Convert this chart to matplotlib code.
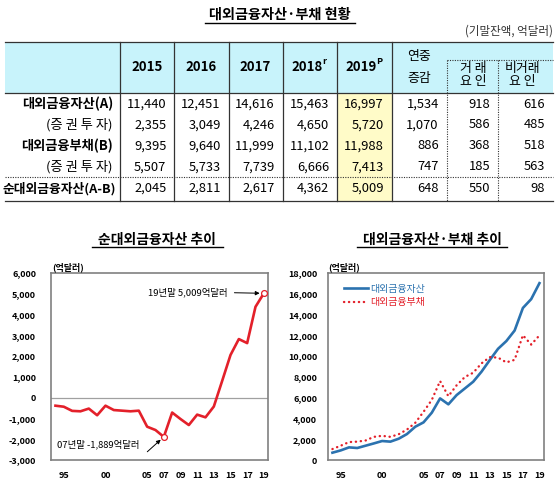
import matplotlib
matplotlib.use('Agg')
import matplotlib.pyplot as plt
from matplotlib.lines import Line2D
from matplotlib.patches import Rectangle

plt.rcParams['font.family'] = ['Noto Sans CJK KR', 'DejaVu Sans']

# ---------------- data ----------------
table_title = '대외금융자산·부채 현황'
unit_note = '(기말잔액, 억달러)'
col_years = ['2015', '2016', '2017', '2018', '2019']
col_year_marks = ['', '', '', 'r', 'P']
row_labels = ['대외금융자산(A)', '(증 권 투 자)', '대외금융부채(B)', '(증 권 투 자)', '순대외금융자산(A-B)']
row_bold = [True, False, True, False, True]
row_assets = [11440, 12451, 14616, 15463, 16997, 1534, 918, 616]
row_assets_sec = [2355, 3049, 4246, 4650, 5720, 1070, 586, 485]
row_liabs = [9395, 9640, 11999, 11102, 11988, 886, 368, 518]
row_liabs_sec = [5507, 5733, 7739, 6666, 7413, 747, 185, 563]
row_net = [2045, 2811, 2617, 4362, 5009, 648, 550, 98]

years = list(range(1994, 2020))
net_assets = [-390, -440, -640, -660, -530, -850, -390, -600, -630, -660, -630, -1400,
              -1560, -1889, -720, -1030, -1320, -820, -950, -430, 800, 2045, 2811, 2617,
              4362, 5009]
ext_assets = [730, 950, 1240, 1180, 1400, 1620, 1850, 1790, 2070, 2520, 3220, 3640,
              4570, 5940, 5370, 6260, 6900, 7540, 8500, 9620, 10700, 11440, 12451, 14616,
              15463, 16997]
ext_liabs = [1080, 1400, 1750, 1790, 1900, 2250, 2350, 2250, 2500, 2950, 3600, 4650,
             5800, 7600, 6150, 7200, 8000, 8400, 9300, 9900, 9850, 9395, 9640, 11999,
             11102, 11988]
xtick_years = [1995, 2000, 2005, 2007, 2009, 2011, 2013, 2015, 2017, 2019]
xtick_labels = ['95', '00', '05', '07', '09', '11', '13', '15', '17', '19']
left_title = '순대외금융자산 추이'
right_title = '대외금융자산·부채 추이'
legend_labels = ['대외금융자산', '대외금융부채']

RED = '#E3202A'
BLUE = '#2B72AF'
FRAME = '#808080'

W, H = 560, 493
fig = plt.figure(figsize=(W / 100, H / 100), dpi=100)

# ---------------- table (pixel coordinate overlay) ----------------
tab = fig.add_axes([0, 0, 1, 1])
tab.set_xlim(0, W)
tab.set_ylim(H, 0)
tab.axis('off')

tab.text(280, 15, table_title, ha='center', va='center', fontsize=10.2, fontweight='bold')
tab.plot([205, 355], [23, 23], color='black', lw=1.0)
tab.text(553, 31, unit_note, ha='right', va='center', fontsize=8.3, color='#333333')

x_edges = [5, 120, 174.3, 228.6, 282.5, 337.3, 391.7, 446.7, 498.3, 553]
y_top, y_head, y_bot = 41.7, 93.3, 200.5
y_dot = 176.7
row_y = [104, 125, 145.7, 166.7, 188.5]

tab.add_patch(Rectangle((x_edges[0], y_top), x_edges[-1] - x_edges[0], y_head - y_top,
                        facecolor='#C8F3FB', edgecolor='none', zorder=0))
tab.add_patch(Rectangle((x_edges[5], y_head), x_edges[6] - x_edges[5], y_bot - y_head,
                        facecolor='#FFFBC8', edgecolor='none', zorder=0))

lc = '#333333'
for y in (y_top, y_head, y_bot):
    tab.plot([x_edges[0], x_edges[-1]], [y, y], color=lc, lw=0.9)
for x in x_edges[1:7]:
    tab.plot([x, x], [y_top, y_bot], color=lc, lw=0.9)
for x in x_edges[7:9]:
    tab.plot([x, x], [60, y_bot], color=lc, lw=0.8, linestyle=(0, (1, 1.2)))
tab.plot([x_edges[7], x_edges[-1]], [60, 60], color=lc, lw=0.8, linestyle=(0, (1, 1.2)))
tab.plot([x_edges[0], x_edges[-1]], [y_dot, y_dot], color=lc, lw=0.8, linestyle=(0, (1, 1.2)))

# header
for i, (yr, mk) in enumerate(zip(col_years, col_year_marks)):
    cx = (x_edges[i + 1] + x_edges[i + 2]) / 2
    if mk:
        tab.text(cx - 3, 67, yr, ha='center', va='center', fontsize=9.5, fontweight='bold')
        tab.text(cx + 12, 62, mk, ha='left', va='center', fontsize=6.5, fontweight='bold')
    else:
        tab.text(cx, 67, yr, ha='center', va='center', fontsize=9.5, fontweight='bold')
tab.text(419, 56.5, '연중', ha='center', va='center', fontsize=9.3)
tab.text(419, 78.5, '증감', ha='center', va='center', fontsize=9.3)
tab.text(473, 68.5, '거 래', ha='center', va='center', fontsize=9.3)
tab.text(473, 82, '요 인', ha='center', va='center', fontsize=9.3)
tab.text(522, 68.5, '비거래', ha='center', va='center', fontsize=9.3)
tab.text(522, 82, '요 인', ha='center', va='center', fontsize=9.3)

rows = [row_assets, row_assets_sec, row_liabs, row_liabs_sec, row_net]
for r, (lab, bold, vals) in enumerate(zip(row_labels, row_bold, rows)):
    y = row_y[r]
    if r == 4:
        tab.text(116, y, lab, ha='right', va='center', fontsize=9.2,
                 fontweight='bold')
    else:
        tab.text(113, y, lab, ha='right', va='center', fontsize=9.5,
                 fontweight='bold' if bold else 'normal')
    for c, v in enumerate(vals):
        tab.text(x_edges[c + 2] - 8, y, f'{v:,}', ha='right', va='center', fontsize=9.3)

# ---------------- left chart ----------------
axL = fig.add_axes([51.3 / W, 1 - 460 / H, (268 - 51.3) / W, (460 - 272.7) / H])
axR = fig.add_axes([328.3 / W, 1 - 460.3 / H, (543.6 - 328.3) / W, (460.3 - 272.7) / H])

for ax in (axL, axR):
    ax.set_xlim(1993.5, 2019.5)
    ax.set_xticks(xtick_years)
    ax.set_xticklabels(xtick_labels, fontsize=6.5, fontweight='bold')
    ax.tick_params(axis='both', length=0)
    ax.tick_params(axis='x', pad=8)
    for s in ax.spines.values():
        s.set_color(FRAME)
        s.set_linewidth(1.2)

yl = list(range(-3000, 6001, 1000))
axL.set_ylim(-3000, 6000)
axL.set_yticks(yl)
axL.set_yticklabels([f'{v:,}' for v in yl], fontsize=6.5, fontweight='bold')
axL.tick_params(axis='y', pad=11)
axL.axhline(0, color='#A0A0A0', lw=0.9, zorder=1)
axL.plot(years, net_assets, color=RED, lw=1.9, zorder=3)
for yr_i in (2007, 2019):
    k = years.index(yr_i)
    axL.plot(years[k], net_assets[k], marker='o', ms=4.2, mfc='white', mec=RED, mew=0.9, zorder=4)
axL.text(0.815, 0.893, f'19년말 {net_assets[-1]:,}억달러', transform=axL.transAxes,
         ha='right', va='center', fontsize=6.8)
axL.annotate('', xy=(2019, net_assets[-1]), xytext=(0.845, 0.893), textcoords='axes fraction',
             arrowprops=dict(arrowstyle='-|>', color='black', lw=0.7, shrinkA=0, shrinkB=3,
                             mutation_scale=6))
k07 = years.index(2007)
axL.text(0.028, 0.084, f'07년말 {net_assets[k07]:,}억달러', transform=axL.transAxes,
         ha='left', va='center', fontsize=6.8)
axL.annotate('', xy=(2007, net_assets[k07]), xytext=(0.443, 0.044), textcoords='axes fraction',
             arrowprops=dict(arrowstyle='-|>', color='black', lw=0.7, shrinkA=0, shrinkB=3,
                             mutation_scale=6))

fig.text(157 / W, 1 - 240 / H, left_title, ha='center', va='center', fontsize=10, fontweight='bold')
tab.plot([92, 223], [247, 247], color='black', lw=1.0)
fig.text(52 / W, 1 - 267 / H, '(억달러)', ha='left', va='center', fontsize=6.5, fontweight='bold')

# ---------------- right chart ----------------
yr_ticks = list(range(0, 18001, 2000))
axR.set_ylim(0, 18000)
axR.set_yticks(yr_ticks)
axR.set_yticklabels([f'{v:,}' for v in yr_ticks], fontsize=6.5, fontweight='bold')
axR.tick_params(axis='y', pad=8)
axR.plot(years, ext_assets, color=BLUE, lw=1.9, zorder=3, label=legend_labels[0])
axR.plot(years, ext_liabs, color=RED, lw=1.7, linestyle=(0, (0.1, 2.0)),
         dash_capstyle='round', zorder=3, label=legend_labels[1])
leg = axR.legend(loc='upper left', bbox_to_anchor=(0.03, 0.99), frameon=False,
                 fontsize=7.2, handlelength=2.4, handletextpad=0.25, labelspacing=0.35,
                 labelcolor=[BLUE, RED])

fig.text(432 / W, 1 - 240 / H, right_title, ha='center', va='center', fontsize=10, fontweight='bold')
tab.plot([357, 507], [247, 247], color='black', lw=1.0)
fig.text(328 / W, 1 - 267 / H, '(억달러)', ha='left', va='center', fontsize=6.5, fontweight='bold')

fig.savefig('out.png', dpi=100)
